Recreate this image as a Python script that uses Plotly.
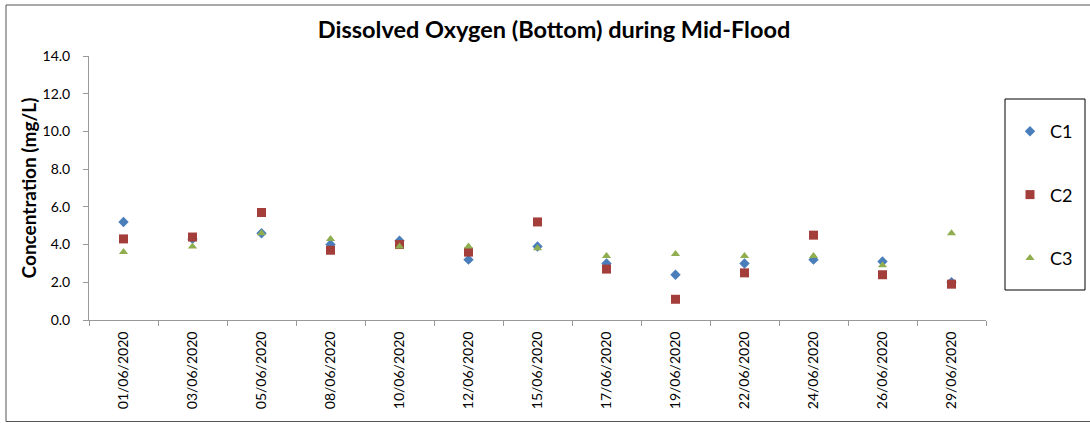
import plotly.graph_objects as go

dates = ["01/06/2020", "03/06/2020", "05/06/2020", "08/06/2020", "10/06/2020",
         "12/06/2020", "15/06/2020", "17/06/2020", "19/06/2020", "22/06/2020",
         "24/06/2020", "26/06/2020", "29/06/2020"]
c1 = [5.2, 4.3, 4.6, 4.0, 4.2, 3.2, 3.9, 3.0, 2.4, 3.0, 3.2, 3.1, 2.0]
c2 = [4.3, 4.4, 5.7, 3.7, 4.0, 3.6, 5.2, 2.7, 1.1, 2.5, 4.5, 2.4, 1.9]
c3 = [3.6, 3.9, 4.6, 4.3, 3.9, 3.9, 3.8, 3.4, 3.5, 3.4, 3.4, 2.9, 4.6]
y_ticks = [0, 2, 4, 6, 8, 10, 12, 14]

FONT = "Lato"
W, H = 1090, 423
L, R, T, B = 89, 986, 56, 320
PW, PH = R - L, B - T


def px_x(p):
    return (p - L) / PW


def px_y(p):
    return (B - p) / PH


fig = go.Figure()
fig.add_trace(go.Scatter(x=dates, y=c1, mode="markers", name="C1", legendgroup="C1",
                         marker=dict(symbol="diamond", size=8, color="#4A7EBB")))
fig.add_trace(go.Scatter(x=dates, y=c2, mode="markers", name="C2", legendgroup="C2",
                         marker=dict(symbol="square", size=9, color="#A33E3B")))
fig.add_trace(go.Scatter(x=dates, y=c3, mode="markers", name="C3", legendgroup="C3",
                         marker=dict(symbol="triangle-up", size=8, color="#8FAE4F")))

fig.update_layout(
    width=W, height=H,
    margin=dict(l=L, r=W - R, t=T, b=H - B, autoexpand=False),
    paper_bgcolor="white", plot_bgcolor="white",
    font=dict(family=FONT, color="black", size=14),
    title=dict(text="<b>Dissolved Oxygen (Bottom) during Mid-Flood</b>",
               x=554 / W, xref="container", xanchor="center",
               y=1 - 30 / H, yref="container", yanchor="middle",
               font=dict(size=23.5, family=FONT, color="black")),
    showlegend=True,
    legend=dict(x=px_x(1010), xanchor="left", y=px_y(113), yanchor="top",
                borderwidth=0, bgcolor="rgba(0,0,0,0)",
                traceorder="grouped", tracegroupgap=37,
                font=dict(size=18, family=FONT),
                itemwidth=30),
    xaxis=dict(type="category", tickangle=-90, showgrid=False, automargin=False,
               showline=True, linecolor="#999999", linewidth=1,
               ticks="outside", tickson="boundaries", tickcolor="#999999", ticklen=5,
               ticklabelstandoff=5,
               tickfont=dict(size=14, family=FONT), range=[-0.5, 12.5]),
    yaxis=dict(range=[0, 14], tickvals=y_ticks, tickformat=".1f", showgrid=False,
               automargin=False,
               zeroline=False, showline=True, linecolor="#999999", linewidth=1,
               ticks="outside", tickcolor="#999999", ticklen=5,
               ticklabelstandoff=10,
               tickfont=dict(size=14, family=FONT),
               title=dict(text="<b>Concentration (mg/L)</b>", font=dict(size=19, family=FONT),
                          standoff=0)),
    shapes=[
        dict(type="rect", xref="paper", yref="paper",
             x0=px_x(6), x1=px_x(1095), y0=px_y(421.5), y1=px_y(5),
             line=dict(color="#555555", width=1), fillcolor="rgba(0,0,0,0)",
             layer="below"),
        dict(type="rect", xref="paper", yref="paper",
             x0=px_x(1005), x1=px_x(1085), y0=px_y(290), y1=px_y(99),
             line=dict(color="black", width=1), fillcolor="rgba(0,0,0,0)",
             layer="below"),
    ],
)

fig.write_html("out.html", config={"displayModeBar": False},
               post_script="document.body.style.margin='0';document.body.style.overflow='hidden';")
